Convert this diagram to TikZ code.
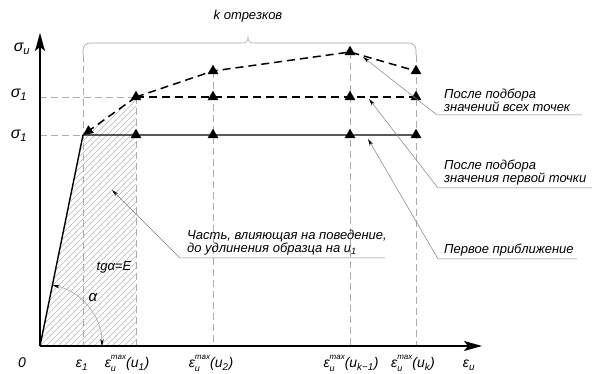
\documentclass[tikz,border=0pt]{standalone}
\usepackage{fontspec}
\setmainfont{Liberation Sans}
\usetikzlibrary{arrows.meta,shapes.geometric}
\newcommand\fsz[1]{\fontsize{#1}{#1}\selectfont\itshape}
\newcommand\epsmax[1]{ε\rlap{\raisebox{-0.22em}{\fontsize{9}{9}\selectfont u}}\raisebox{0.62em}{\fontsize{8}{8}\selectfont max}(u\textsubscript{#1})}
\begin{document}
\begin{tikzpicture}[x=1pt,y=-1pt,
 guide/.style={gray!65, line width=0.5pt, dash pattern=on 7pt off 4pt},
 curve/.style={black, line width=1.5pt, dash pattern=on 8pt off 5pt},
 solidline/.style={black, line width=1.4pt},
 axis/.style={black, line width=1.4pt, -{Stealth[length=18pt,width=10pt,inset=4pt]}},
 tri/.style={regular polygon, regular polygon sides=3, fill=black, inner sep=0pt, minimum size=12.5pt},
 leader/.style={gray, line width=0.5pt, -{Stealth[length=7pt,width=3.5pt,black]}},
 bracestyle/.style={gray!70, line width=0.6pt},
 hatch/.style={gray!55, line width=0.4pt},
 lbl/.style={inner sep=0pt, font=\fsz{14}, anchor=base},
 biglbl/.style={inner sep=0pt, font=\fsz{16}, anchor=base},
 note/.style={inner sep=0pt, align=left, font=\fsz{13}, anchor=south west}]
\useasboundingbox (0,0) rectangle (598,374);
\fill[white] (0,0) rectangle (598,374);

% key coordinates
\coordinate (O) at (40,346);
\coordinate (xend) at (482,346);
\coordinate (yend) at (40,33);
\coordinate (s0) at (83,135);
\coordinate (b0) at (83,55);
\coordinate (b4) at (416,55);
\coordinate (ys0) at (40,135);
\coordinate (ym1) at (40,97);
\coordinate (ps1) at (136,135);
\coordinate (ps2) at (213,135);
\coordinate (ps3) at (350,135);
\coordinate (ps4) at (416,135);
\coordinate (pm1) at (136,97);
\coordinate (pm2) at (213,97);
\coordinate (pm3) at (350,97);
\coordinate (pm4) at (416,97);
\coordinate (pt2) at (213,71);
\coordinate (pt3) at (350,52);
\coordinate (pt4) at (416,71);

% hatching
\begin{scope}
\clip (O) -- (s0) -- (pm1) -- (136,346) -- cycle;
\foreach \x in {-320,-314,...,140} \draw[hatch] (\x,346) -- (\x+330,16);
\end{scope}

% guide lines
\coordinate (g0) at (83,346);
\coordinate (g1) at (136,346);
\coordinate (g2) at (213,346);
\coordinate (g3) at (350,346);
\coordinate (g4) at (416,346);
\draw[guide] (b0) -- (g0);
\draw[guide] (pm1) -- (g1);
\draw[guide] (pt2) -- (g2);
\draw[guide] (pt3) -- (g3);
\draw[guide] (b4) -- (g4);
\draw[guide] (ys0) -- (s0);
\draw[guide] (ym1) -- (pm1);

% brace
\draw[bracestyle] (b0) -- (83,50) arc[start angle=180, end angle=270, radius=7]
  -- (241,43) .. controls (246,43) and (248,42) .. (248,37)
  .. controls (248,42) and (250,43) .. (255,43)
  -- (409,43) arc[start angle=270, end angle=360, radius=7] -- (b4);
\node[font=\fsz{13}, inner sep=0pt] (k) at (248,16) {k отрезков};

% axes
\draw[axis] (O) -- (xend);
\draw[axis] (O) -- (yend);

% curves
\draw[solidline] (O) -- (s0) -- (ps4);
\draw[curve] (pm1) -- (pm4);
\draw[curve] (pm1) -- (pt2) -- (pt3) -- (pt4);
\draw[curve, -{Triangle[length=10pt,width=9pt]}] (pm1) -- (s0);

% point markers
\node[tri] (s1) at (ps1) {};
\node[tri] (s2) at (ps2) {};
\node[tri] (s3) at (ps3) {};
\node[tri] (s4) at (ps4) {};
\node[tri] (m1) at (pm1) {};
\node[tri] (m2) at (pm2) {};
\node[tri] (m3) at (pm3) {};
\node[tri] (m4) at (pm4) {};
\node[tri] (t2) at (pt2) {};
\node[tri] (t3) at (pt3) {};
\node[tri] (t4) at (pt4) {};

% angle
\draw[bracestyle, {Stealth[length=7pt,width=3.5pt,black]}-{Stealth[length=7pt,width=3.5pt,black]}]
  (102,346) arc[start angle=0, end angle=-78.3, radius=62];
\node[font=\fsz{15}, inner sep=0pt] (alpha) at (93,298) {α};
\node[font=\fsz{13}, inner sep=0pt] (tg) at (114,267) {tgα=E};

% axis labels
\node[biglbl] (su) at (22,52) {σ\textsubscript{u}};
\node[biglbl] (s1l) at (19,98) {σ\textsubscript{1}};
\node[biglbl] (stl) at (19,139) {σ\textsubscript{1}};
\node[lbl] (zero) at (22,368) {0};
\node[lbl] (e1) at (82,368) {ε\textsubscript{1}};
\node[lbl] (eu1) at (127,368) {\epsmax{1}};
\node[lbl] (eu2) at (211,368) {\epsmax{2}};
\node[lbl] (euk1) at (351,368) {\epsmax{k−1}};
\node[lbl] (euk) at (413,368) {\epsmax{k}};
\node[lbl] (eu) at (469,368) {ε\textsubscript{u}};

% callouts
\coordinate (c1a) at (112,190);
\coordinate (c1b) at (180,258);
\coordinate (c1c) at (385,258);
\draw[leader] (c1c) -- (c1b) -- (c1a);
\node[note] (n1) at (187,255) {Часть, влияющая на поведение,\\до удлинения образца на u\textsubscript{1}};

\coordinate (c2a) at (363,57);
\coordinate (c2b) at (437,115);
\coordinate (c2c) at (582,115);
\draw[leader] (c2c) -- (c2b) -- (c2a);
\node[note] (n2) at (444,112) {После подбора\\значений всех точек};

\coordinate (c3a) at (369,99);
\coordinate (c3b) at (438,188);
\coordinate (c3c) at (592,188);
\draw[leader] (c3c) -- (c3b) -- (c3a);
\node[note] (n3) at (444,185) {После подбора\\значения первой точки};

\coordinate (c4a) at (368,139);
\coordinate (c4b) at (438,259);
\coordinate (c4c) at (577,259);
\draw[leader] (c4c) -- (c4b) -- (c4a);
\node[note] (n4) at (444,256) {Первое приближение};
\end{tikzpicture}
\end{document}
